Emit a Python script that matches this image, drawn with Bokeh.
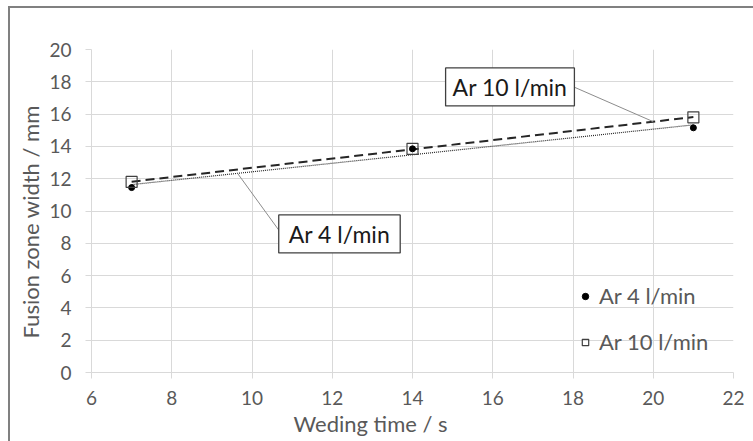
import numpy as np
from bokeh.plotting import figure
from bokeh.models import (Range1d, FixedTicker, Legend, LegendItem, Label,
                          Title)
from bokeh.embed import file_html
from bokeh.resources import INLINE

# ---- data ----
time_s = [7, 14, 21]
ar4_width = [11.45, 13.85, 15.15]
ar10_width = [11.8, 13.85, 15.8]
series_names = ["Ar 4 l/min", "Ar 10 l/min"]

x_ticks = [6, 8, 10, 12, 14, 16, 18, 20, 22]
y_ticks = [0, 2, 4, 6, 8, 10, 12, 14, 16, 18, 20]

# callouts (label centre, leader start x/y, leader target x on trendline)
callout_text = ["Ar 4 l/min", "Ar 10 l/min"]
callout_x = [12.18, 16.43]
callout_y = [8.58, 17.68]
leader_start_x = [10.71, 18.03]
leader_start_y = [8.67, 17.67]
leader_target_x = [9.64, 20.0]
callout_pad_x = [10, 7]

FONT = "Lato"
GREY = "#595959"
GRID = "#d9d9d9"

p = figure(width=753, height=441, output_backend="svg", toolbar_location=None,
           x_range=Range1d(6, 22), y_range=Range1d(0, 20),
           min_border_left=91, min_border_top=49, min_border_right=20,
           min_border_bottom=69)
p.styles = {"box-shadow": "inset 8px 6px 0 0 white, inset 10px 8px 0 0 #808080"}
p.border_fill_color = None
p.outline_line_color = None
p.background_fill_color = "white"

for ax in (p.xaxis[0], p.yaxis[0]):
    ax.axis_line_color = GRID
    ax.major_tick_line_color = GRID
    ax.major_tick_out = 6
    ax.major_tick_in = 0
    ax.minor_tick_line_color = None
    ax.major_label_text_color = GREY
    ax.major_label_text_font = FONT
    ax.major_label_text_font_size = "19px"

p.xaxis.ticker = FixedTicker(ticks=x_ticks)
p.yaxis.ticker = FixedTicker(ticks=y_ticks)
p.xaxis.major_label_standoff = 12
p.yaxis.major_label_standoff = 14

yt = Title(text="Fusion zone width / mm", align="left", offset=34,
           standoff=6, text_font=FONT, text_font_size="22px",
           text_color=GREY, text_font_style="normal")
p.add_layout(yt, "left")

xt = Title(text="Weding time / s", align="left", offset=202, standoff=0,
           text_font=FONT, text_font_size="22px", text_color=GREY,
           text_font_style="normal")
p.add_layout(xt, "below")

p.grid.grid_line_color = GRID
p.grid.grid_line_width = 1

# trendlines (linear fits of each series)
x_ends = np.array([time_s[0], time_s[-1]])
fit4 = np.polyfit(time_s, ar4_width, 1)
fit10 = np.polyfit(time_s, ar10_width, 1)
p.line(x_ends, np.polyval(fit10, x_ends), line_color="#262626",
       line_width=2, line_dash="9 5")
p.line(x_ends, np.polyval(fit4, x_ends), line_color="#262626",
       line_width=1.2, line_dash="1 1")

r4 = p.scatter(time_s, ar4_width, marker="circle", size=6,
               fill_color="black", line_color="black")
r10 = p.scatter(time_s, ar10_width, marker="square", size=11,
                fill_color="white", fill_alpha=0.0, line_color="#404040",
                line_width=1.2)

# leader lines
fits = [fit4, fit10]
for i in range(2):
    ty = float(np.polyval(fits[i], leader_target_x[i]))
    p.segment(x0=[leader_start_x[i]], y0=[leader_start_y[i]],
              x1=[leader_target_x[i]], y1=[ty],
              line_color="#8c8c8c", line_width=1)

for i in range(2):
    lab = Label(x=callout_x[i], y=callout_y[i], text=callout_text[i],
                text_align="center", text_baseline="middle",
                text_font=FONT, text_font_size="23px", text_color="#1a1a1a",
                border_line_color="#404040", border_line_width=1.3,
                background_fill_color="white",
                padding=(callout_pad_x[i], 5))
    p.add_layout(lab)

legend = Legend(items=[LegendItem(label=series_names[0], renderers=[r4]),
                       LegendItem(label=series_names[1], renderers=[r10])],
                location=(486, 17), padding=0, margin=0,
                border_line_color=None, background_fill_alpha=0,
                glyph_width=16, glyph_height=26, label_height=26,
                spacing=19, label_standoff=6,
                label_text_font=FONT, label_text_font_size="22px",
                label_text_color=GREY)
p.add_layout(legend)

open("out.html", "w").write(file_html(p, INLINE))
